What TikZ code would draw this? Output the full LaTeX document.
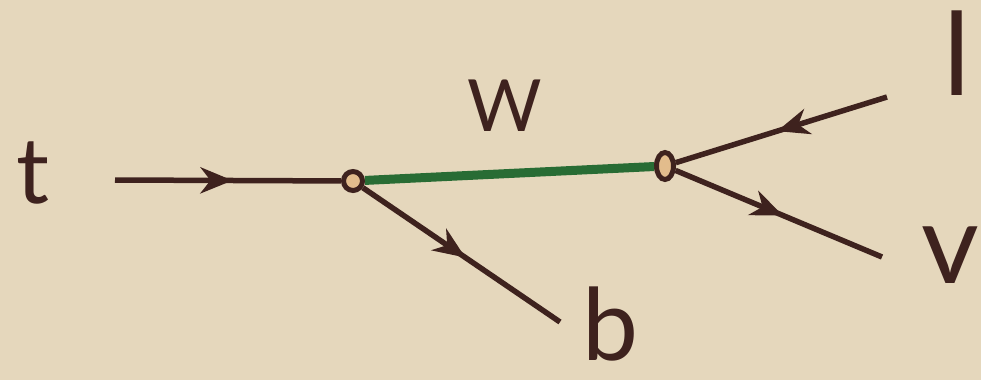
\documentclass[tikz,border=0pt]{standalone}
\usepackage{fontspec}
\setmainfont{Lato}
\usetikzlibrary{positioning, calc, shapes.geometric, arrows.meta, decorations.markings}
\definecolor{parchment}{RGB}{229,215,188}
\definecolor{inkBrown}{RGB}{62,34,30}
\definecolor{bosonGreen}{RGB}{40,108,52}
\definecolor{vertexTan}{RGB}{226,188,140}

\begin{document}
\begin{tikzpicture}[
      x=1pt, y=-1pt,
      lbl/.style={text=inkBrown, inner sep=0pt, font=\fontsize{100}{100}\selectfont},
      vtx/.style={ellipse, draw=inkBrown, line width=5pt, fill=vertexTan,
        minimum width=19pt, minimum height=19pt, inner sep=0pt},
      fermion/.style={color=inkBrown, line width=5.5pt, postaction={decorate},
        decoration={markings, mark=at position 0.52 with {\arrow{Stealth[length=32pt, width=26pt, inset=10pt]}}}},
      boson/.style={draw=bosonGreen, line width=9pt}
    ]
    \path[use as bounding box, fill=parchment] (0,0) rectangle (981,380);

    \node[vtx] (v1) at (353,181) {};
    \node[vtx, minimum width=17pt, minimum height=27pt] (v2) at (665,166) {};
    \coordinate (tin) at (115,180);
    \coordinate (bout) at (560,322);
    \coordinate (lout) at (887,97);
    \coordinate (vout) at (882,257);

    \node[lbl, font=\fontsize{92}{92}\selectfont] (tq) at (33,173) {t};
    \node[lbl, font=\fontsize{72}{72}\selectfont] (wb) at (505,106) {W};
    \node[lbl] (bq) at (610,324) {b};
    \node[lbl, font=\fontsize{115}{115}\selectfont] (lep) at (957,53) {l};
    \node[lbl, font=\fontsize{112}{112}\selectfont] (nu) at (950,255) {v};

    \draw[fermion] (tin) -- (v1);
    \draw[fermion] (v1) -- (bout);
    \draw[boson] (v1) -- (v2);
    \draw[fermion] (lout) -- (v2);
    \draw[fermion] (v2) -- (vout);
  \end{tikzpicture}
\end{document}
